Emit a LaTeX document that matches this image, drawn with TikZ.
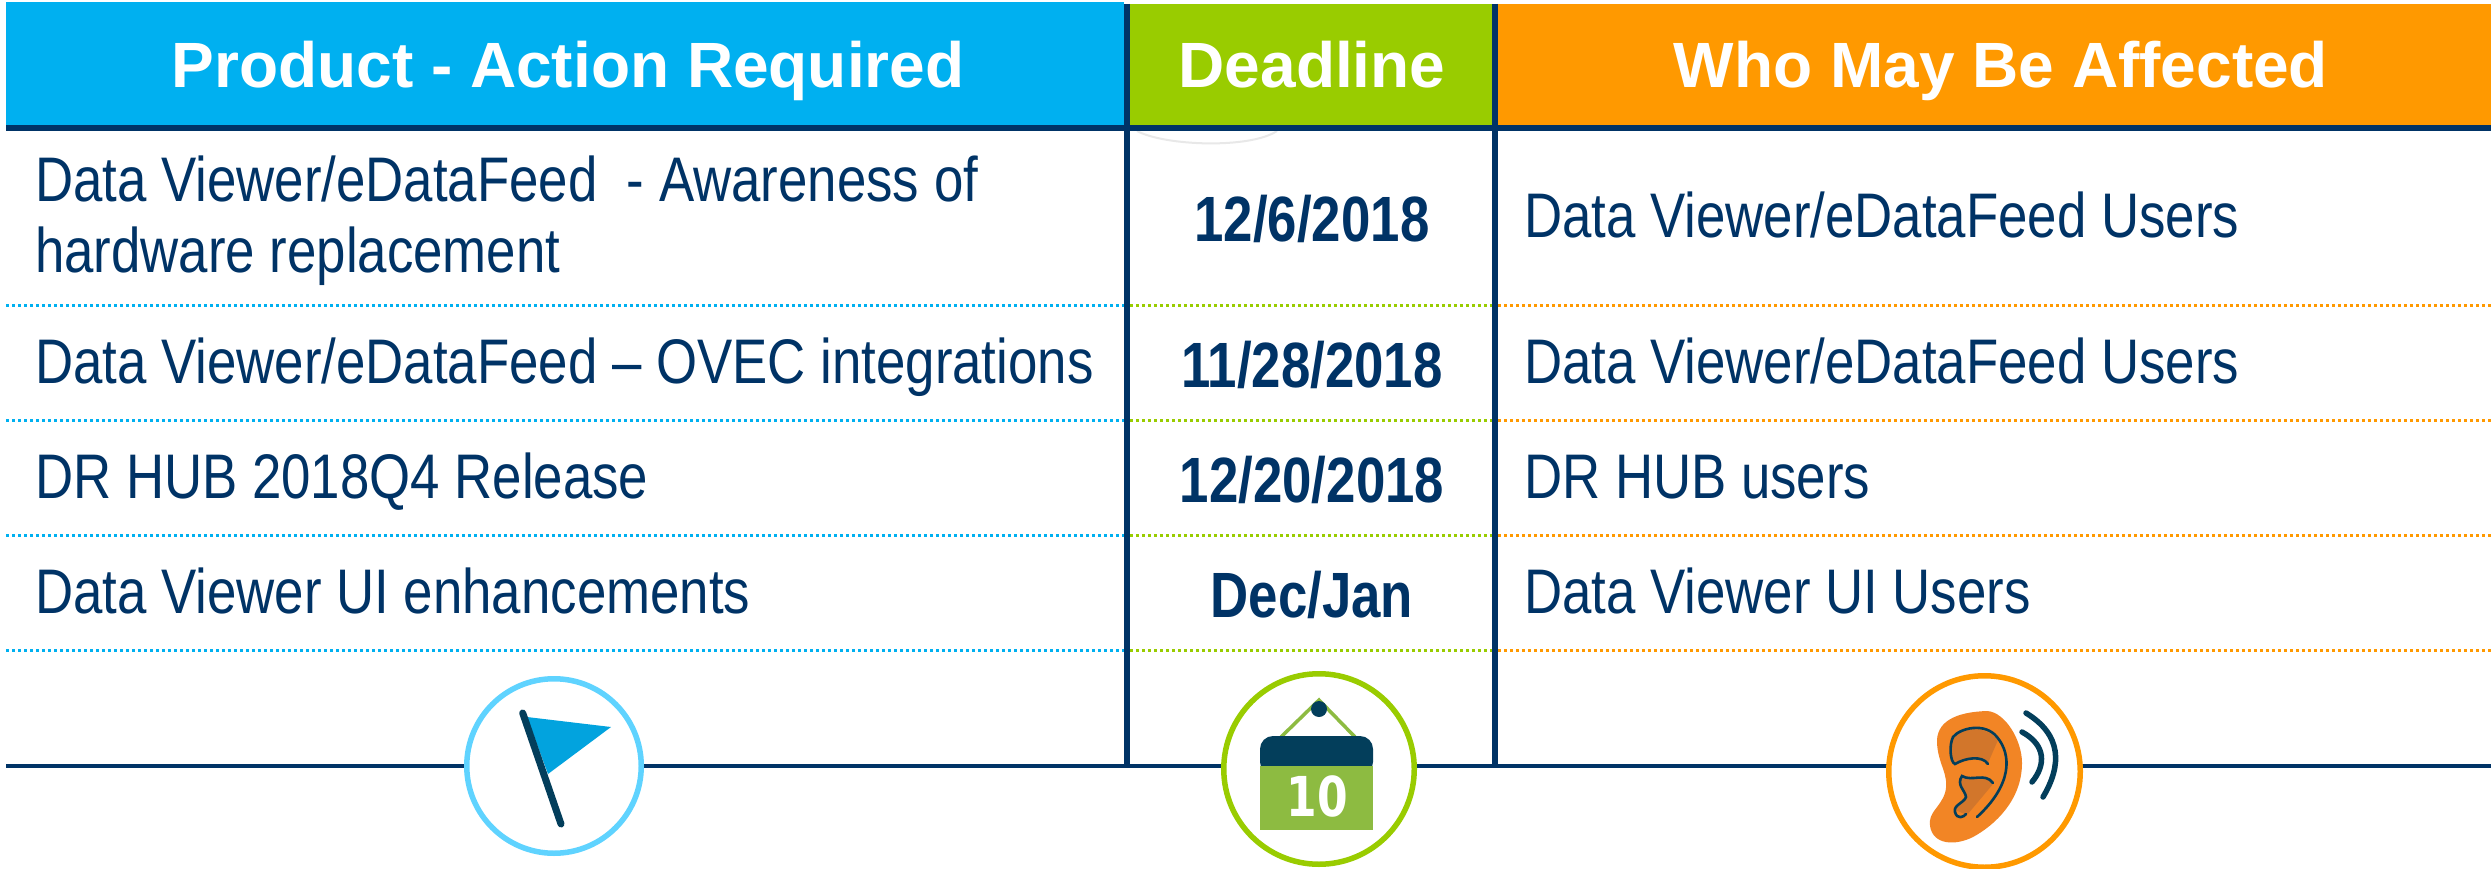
\documentclass[tikz,border=0pt]{standalone}
\usepackage{fontspec}
\setmainfont{Liberation Sans}
\newfontfamily\bodyf[FakeStretch=0.838]{Liberation Sans}
\newfontfamily\datef[FakeStretch=0.825]{Liberation Sans}
\newfontfamily\calf[FakeStretch=0.8]{DejaVu Sans}
\usetikzlibrary{calc}
\definecolor{navy}{HTML}{003366}
\definecolor{dnavy}{HTML}{033E5B}
\definecolor{hblue}{HTML}{00B0F0}
\definecolor{hgreen}{HTML}{99CC00}
\definecolor{horange}{HTML}{FF9900}
\definecolor{ringblue}{HTML}{5FD3FF}
\definecolor{flagblue}{HTML}{02A3DE}
\definecolor{calgreen}{HTML}{8DBB41}
\definecolor{earor}{HTML}{F28525}
\definecolor{eardk}{HTML}{D2762B}
\tikzset{x=1pt,y=-1pt,
 hdr/.style={font=\fontsize{64}{64}\selectfont\bfseries,text=white,anchor=base,inner sep=0},
 body/.style={font=\bodyf\fontsize{63}{70}\selectfont,text=navy,anchor=base west,inner sep=0},
 date/.style={font=\datef\fontsize{64}{64}\selectfont\bfseries,text=navy,anchor=base,inner sep=0},
 rule/.style={line width=6pt,navy},
 dotrule/.style={line width=3pt,dash pattern=on 3pt off 3pt},
 ring/.style={circle,draw,fill=white,line width=5.5pt,inner sep=0},
 earline/.style={dnavy,line width=2.6pt,line cap=round},
 wave/.style={dnavy,line width=5.5pt,line cap=round}}
\begin{document}
\begin{tikzpicture}
\useasboundingbox (0,0) rectangle (2491,869);
\fill[white] (0,0) rectangle (2491,869);
\draw[black!9,line width=2pt] (1137,131) .. controls (1165,146) and (1250,149) .. (1277,131);
\fill[hblue] (6,2) rectangle (1124,125);
\fill[hgreen] (1130,4) rectangle (1492,125);
\fill[horange] (1498,4) rectangle (2491,125);
\node[hdr] (h1) at (568,88) {Product - Action Required};
\node[hdr] (h2) at (1312,88) {Deadline};
\node[hdr] (h3) at (2001,88) {Who May Be Affected};
\coordinate (hl) at (6,128); \coordinate (hr) at (2491,128);
\draw[rule] (hl) -- (hr);
\coordinate (bl) at (6,766); \coordinate (br) at (2491,766);
\draw[navy,line width=4pt] (bl) -- (br);
\coordinate (va) at (1127,4); \coordinate (vb) at (1127,766);
\coordinate (vc) at (1495,4); \coordinate (vd) at (1495,766);
\draw[rule] (va) -- (vb);
\draw[rule] (vc) -- (vd);
\foreach \y in {305,420,535,650}{
 \draw[dotrule,hblue] (6,\y) -- (1124,\y);
 \draw[dotrule,hgreen] (1130,\y) -- (1492,\y);
 \draw[dotrule,horange] (1498,\y) -- (2491,\y);
}
\node[body] (a1) at (35,202) {Data Viewer/eDataFeed\ \ - Awareness of};
\node[body] (a1b) at (35,272) {hardware replacement};
\node[body] (a2) at (35,383) {Data Viewer/eDataFeed – OVEC integrations};
\node[body] (a3) at (35,498) {DR HUB 2018Q4 Release};
\node[body] (a4) at (35,613) {Data Viewer UI enhancements};
\node[date] (d1) at (1312,241) {12/6/2018};
\node[date] (d2) at (1312,387) {11/28/2018};
\node[date] (d3) at (1312,502) {12/20/2018};
\node[date] (d4) at (1312,617) {Dec/Jan};
\node[body] (c1) at (1524,237) {Data Viewer/eDataFeed Users};
\node[body] (c2) at (1524,383) {Data Viewer/eDataFeed Users};
\node[body] (c3) at (1524,498) {DR HUB users};
\node[body] (c4) at (1524,613) {Data Viewer UI Users};
% flag
\node[ring,draw=ringblue,minimum size=174.5pt] (i1) at (554,766) {};
\fill[flagblue] (527,717) -- (611,727) -- (548,774) -- cycle;
\draw[dnavy,line width=7pt,line cap=round] (522.7,713) -- (561,824);
% calendar
\node[ring,draw=hgreen,minimum size=190.5pt] (i2) at (1319,769) {};
\draw[calgreen,line width=3.5pt] (1281,737) -- (1319,700) -- (1355,737);
\fill[dnavy] (1319,709) circle (8);
\fill[calgreen] (1260,766) rectangle (1373,830);
\fill[dnavy,rounded corners=13pt] (1260,775) -- (1260,736) -- (1373,736) -- (1373,775) -- cycle;
\fill[calgreen] (1260,766) rectangle (1373,780);
\node[font=\calf\fontsize{55}{55}\selectfont\bfseries,text=white,inner sep=0,anchor=base] (n10) at (1317,816) {10};
% ear
\node[ring,draw=horange,minimum size=191.5pt] (i3) at (1984.5,771.5) {};
\fill[earor] (1987,711) .. controls (1955,712) and (1936,722) .. (1937,743) .. controls (1938,765) and (1950,775) .. (1945,793) .. controls (1940,808) and (1928,812) .. (1930,826) .. controls (1933,845) and (1955,846) .. (1973,837) .. controls (1995,825) and (2022,800) .. (2022,763) .. controls (2022,740) and (2005,712) .. (1987,711) -- cycle;
\fill[eardk] (1953,737) .. controls (1960,728) and (1985,724) .. (1998,740) -- (1988,763) .. controls (1978,755) and (1965,760) .. (1955,764) .. controls (1950,762) and (1950,745) .. (1953,737) -- cycle;
\fill[eardk] (1962,776) .. controls (1970,780) and (1985,772) .. (1993,784) -- (1967,815) -- (1955,810) -- (1966,797) .. controls (1962,790) and (1958,785) .. (1962,776) -- cycle;
\draw[earline] (1988,764) .. controls (1982,755) and (1965,758) .. (1955,764) .. controls (1950,762) and (1949,745) .. (1953,737) .. controls (1960,728) and (1985,722) .. (1997,737) .. controls (2012,755) and (2012,785) .. (1977,817);
\draw[earline] (1993,783) .. controls (1985,772) and (1972,782) .. (1962,776) .. controls (1956,785) and (1965,790) .. (1966,797) .. controls (1964,803) and (1953,805) .. (1955,812) .. controls (1957,820) and (1964,817) .. (1966,814);
\draw[wave] (2022,732) .. controls (2046,745) and (2046,765) .. (2032,782);
\draw[wave] (2026,713) .. controls (2062,735) and (2062,765) .. (2043,797);
\end{tikzpicture}
\end{document}
